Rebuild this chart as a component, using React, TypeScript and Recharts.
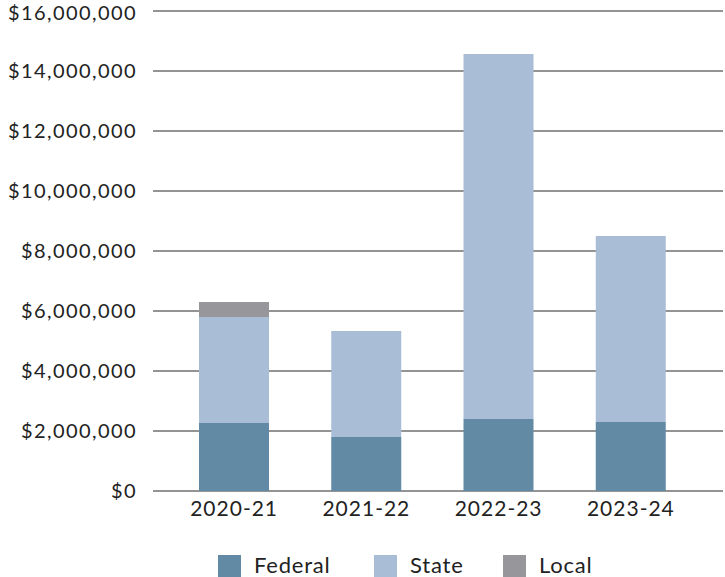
import { BarChart, Bar, XAxis, YAxis, CartesianGrid } from "recharts";

const years = ["2020-21", "2021-22", "2022-23", "2023-24"];
const federal = [2270000, 1800000, 2400000, 2300000];
const state = [3530000, 3530000, 12170000, 6200000];
const local = [500000, 0, 0, 0];
const yTicks = [0, 2000000, 4000000, 6000000, 8000000, 10000000, 12000000, 14000000, 16000000];

const series = [
  { key: "federal", name: "Federal", color: "#628aa5" },
  { key: "state", name: "State", color: "#aabdd6" },
  { key: "local", name: "Local", color: "#97979b" },
];

const data = years.map((year, i) => ({
  year,
  federal: federal[i],
  state: state[i],
  local: local[i],
}));

const FONT = "Lato, 'Noto Sans', sans-serif";
const fmt = (v: number) => "$" + v.toLocaleString("en-US");

// y tick label; the top one sits a touch lower so it isn't clipped by the page edge
function YTick(props: any) {
  const { x, y, payload } = props;
  const shift = payload.value === 16000000 ? 2 : 0;
  return (
    <text x={x} y={y + shift} dy="0.355em" textAnchor="end" fill="#222" fontSize={20} fontFamily={FONT} letterSpacing={1.4}>
      {fmt(payload.value)}
    </text>
  );
}

export default function App() {
  return (
    <div style={{ position: "absolute", left: 0, top: 0, width: 725, height: 577, background: "#fff", fontFamily: FONT }}>
      <BarChart width={725} height={525} data={data} margin={{ top: 11, right: 2, left: 0, bottom: 0 }}>
        <CartesianGrid vertical={false} stroke="#2b2b2b" strokeWidth={1.2} />
        <XAxis
          dataKey="year"
          height={34}
          axisLine={false}
          tickLine={false}
          tickSize={6}
          tickMargin={4}
          padding={{ left: 15, right: 26 }}
          tick={{ fill: "#222", fontSize: 21, fontFamily: FONT, letterSpacing: 1 }}
        />
        <YAxis
          width={153}
          domain={[0, 16000000]}
          ticks={yTicks}
          interval={0}
          axisLine={false}
          tickLine={false}
          tickSize={6}
          tickMargin={10}
          tick={<YTick />}
        />
        {series.map((s) => (
          <Bar key={s.key} dataKey={s.key} name={s.name} stackId="a" fill={s.color} barSize={70} isAnimationActive={false} />
        ))}
      </BarChart>
      <div style={{ position: "absolute", top: 553, left: 0, width: 725, height: 24 }}>
        {series.map((s, i) => (
          <div key={s.key} style={{ position: "absolute", left: [218, 374, 503][i], top: 0, height: 24, display: "flex", alignItems: "center" }}>
            <div style={{ width: 23, height: 22, background: s.color, marginTop: 2 }} />
            <span style={{ marginLeft: 13, fontSize: 22, color: "#222", lineHeight: "24px", letterSpacing: 0.8 }}>{s.name}</span>
          </div>
        ))}
      </div>
    </div>
  );
}
